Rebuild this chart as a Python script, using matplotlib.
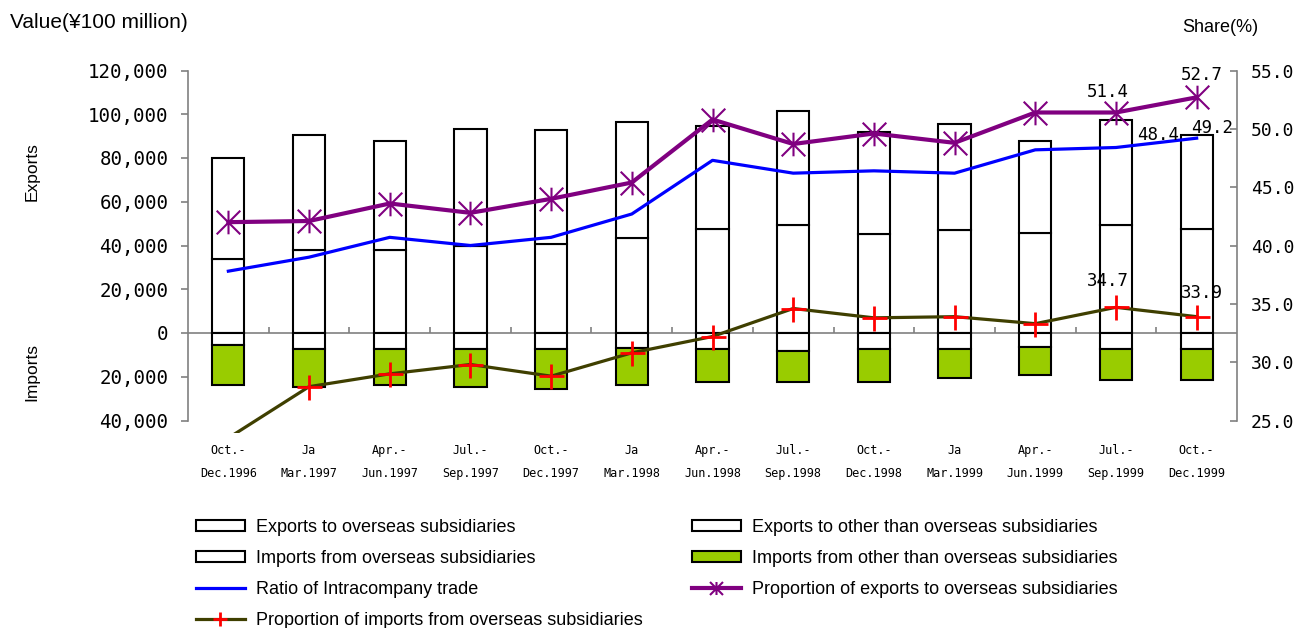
import numpy as np
import matplotlib.pyplot as plt
from matplotlib.path import Path
from matplotlib.patches import Rectangle
from matplotlib.ticker import FuncFormatter

# Quarterly trade of overseas-affiliated companies, value in 100 million yen
quarters = ["Oct.-\nDec.1996", "Ja\nMar.1997", "Apr.-\nJun.1997", "Jul.-\nSep.1997",
            "Oct.-\nDec.1997", "Ja\nMar.1998", "Apr.-\nJun.1998", "Jul.-\nSep.1998",
            "Oct.-\nDec.1998", "Ja\nMar.1999", "Apr.-\nJun.1999", "Jul.-\nSep.1999",
            "Oct.-\nDec.1999"]

exports_sub = np.array([33800, 38000, 37900, 39700, 40800, 43500, 47500,
                        49300, 45300, 47200, 45500, 49600, 47500])
exports_other = np.array([46200, 52400, 49800, 53400, 52200, 52800, 47000,
                          52100, 46500, 48200, 42500, 47700, 42900])
imports_sub = np.array([5300, 7100, 7400, 7100, 7100, 7000, 7300,
                        8200, 7300, 7300, 6300, 7300, 7300])
imports_other = np.array([18600, 17400, 16200, 17700, 18500, 16700, 15100,
                          14200, 15100, 13100, 13100, 14200, 14200])

# shares (%)
ratio_intra = [37.8, 39.0, 40.7, 40.0, 40.7, 42.7, 47.3, 46.2, 46.4, 46.2, 48.2, 48.4, 49.2]
prop_exports = [42.0, 42.1, 43.6, 42.8, 44.0, 45.4, 50.8, 48.7, 49.6, 48.8, 51.4, 51.4, 52.7]
prop_imports = [23.5, 27.9, 29.0, 29.8, 28.8, 30.8, 32.2, 34.6, 33.8, 33.9, 33.3, 34.7, 33.9]

GRAY = '#808080'
MONO = 'DejaVu Sans Mono'
SANS = 'Liberation Sans'

fig = plt.figure(figsize=(13.05, 6.28), dpi=100)
ax = fig.add_axes([188 / 1305, 1 - 420.5 / 628, 1049 / 1305, 350 / 628])
ax2 = ax.twinx()

x = np.arange(len(quarters))
w = 0.4
bar_kw = dict(width=w, edgecolor='black', linewidth=1.5, zorder=2)
b1 = ax.bar(x, exports_sub, color='white', **bar_kw)
b2 = ax.bar(x, exports_other, bottom=exports_sub, color='white', **bar_kw)
b3 = ax.bar(x, -imports_sub, color='white', **bar_kw)
b4 = ax.bar(x, -imports_other, bottom=-imports_sub, color='#99cc00', **bar_kw)

# zero line with category separators
ax.axhline(0, color=GRAY, lw=1.2, zorder=1)
ax.vlines(x[:-1] + 0.5, 0, 2700, color=GRAY, lw=1.2, zorder=1)

ax.set_xlim(-0.5, len(quarters) - 0.5)
ax.set_ylim(-40000, 120000)
ax.set_yticks(np.arange(-40000, 120001, 20000))
ax.yaxis.set_major_formatter(FuncFormatter(lambda v, p: f"{abs(v):,.0f}"))
ax.set_xticks(x)
ax.set_xticklabels(quarters, fontfamily=MONO, fontsize=8.5, linespacing=2.0)
ax.tick_params(axis='x', length=0, pad=17)
ax.tick_params(axis='y', length=5, width=1.2, color=GRAY, pad=9, labelsize=13.8)
for lab in ax.get_yticklabels():
    lab.set_fontfamily(MONO)
for s in ['top', 'right', 'bottom']:
    ax.spines[s].set_visible(False)
ax.spines['left'].set_color(GRAY)
ax.spines['left'].set_linewidth(1.2)

# share lines on the right axis
star = Path([(0, -1), (0, 1), (-1, -1), (1, 1), (-1, 1), (1, -1)],
            [Path.MOVETO, Path.LINETO, Path.MOVETO, Path.LINETO, Path.MOVETO, Path.LINETO])
l1, = ax2.plot(x, ratio_intra, color='#0000ff', lw=2.3, zorder=3)
l2, = ax2.plot(x, prop_exports, color='#800080', lw=3, marker=star, ms=17, mew=1.5, zorder=4)
l3, = ax2.plot(x, prop_imports, color='#3f3f00', lw=2.3, zorder=4)
m3, = ax2.plot(x, prop_imports, ls='none', marker='+', ms=18, mew=2, color='#ff0000', zorder=5)
# the import line runs a little below the axis floor before it is cut
l3.set_clip_path(Rectangle((0, -0.035), 1, 1.035, transform=ax2.transAxes))

ax2.set_ylim(25, 55)
ax2.set_yticks(np.arange(25, 56, 5))
ax2.yaxis.set_major_formatter(FuncFormatter(lambda v, p: f"{v:.1f}"))
ax2.tick_params(axis='y', direction='in', length=5, width=1.2, color=GRAY, pad=10, labelsize=13)
for lab in ax2.get_yticklabels():
    lab.set_fontfamily(MONO)
for s in ['top', 'left', 'bottom']:
    ax2.spines[s].set_visible(False)
ax2.spines['right'].set_color(GRAY)
ax2.spines['right'].set_linewidth(1.2)

# value labels on the last two quarters
lab_kw = dict(textcoords='offset points', ha='center', va='center',
              fontfamily=MONO, fontsize=12.5)
for i, (dx, dy) in zip([11, 12], [(-6, 15), (4, 16)]):
    ax2.annotate(f"{prop_exports[i]:.1f}", (x[i], prop_exports[i]), xytext=(dx, dy), **lab_kw)
for i, (dx, dy) in zip([11, 12], [(30, 9), (11, 7)]):
    ax2.annotate(f"{ratio_intra[i]:.1f}", (x[i], ratio_intra[i]), xytext=(dx, dy), **lab_kw)
for i, (dx, dy) in zip([11, 12], [(-6, 19), (4, 17)]):
    ax2.annotate(f"{prop_imports[i]:.1f}", (x[i], prop_imports[i]), xytext=(dx, dy), **lab_kw)

fig.text(10 / 1305, 1 - 22 / 628, "Value(¥100 million)", fontfamily=SANS, fontsize=15, va='center')
fig.text(1182 / 1305, 1 - 28 / 628, "Share(%)", fontfamily=SANS, fontsize=13, va='center')
fig.text(32 / 1305, 1 - 172 / 628, "Exports", fontfamily=SANS, fontsize=12.5, rotation=90,
         ha='center', va='center')
fig.text(32 / 1305, 1 - 372 / 628, "Imports", fontfamily=SANS, fontsize=12.5, rotation=90,
         ha='center', va='center')

handles = [b1, b3, l1, (l3, m3), b2, b4, l2]
labels = ["Exports to overseas subsidiaries",
          "Imports from overseas subsidiaries",
          "Ratio of Intracompany trade",
          "Proportion of imports from overseas subsidiaries",
          "Exports to other than overseas subsidiaries",
          "Imports from other than overseas subsidiaries",
          "Proportion of exports to overseas subsidiaries"]
fig.legend(handles, labels, ncol=2, loc='upper left', bbox_to_anchor=(187 / 1305, 1 - 510 / 628),
           frameon=False, borderpad=0, prop={'family': SANS, 'size': 13},
           handlelength=2.7, handleheight=0.6, handletextpad=0.6, labelspacing=0.77,
           columnspacing=2.75, markerscale=0.55)

fig.savefig('out.png', dpi=100)
